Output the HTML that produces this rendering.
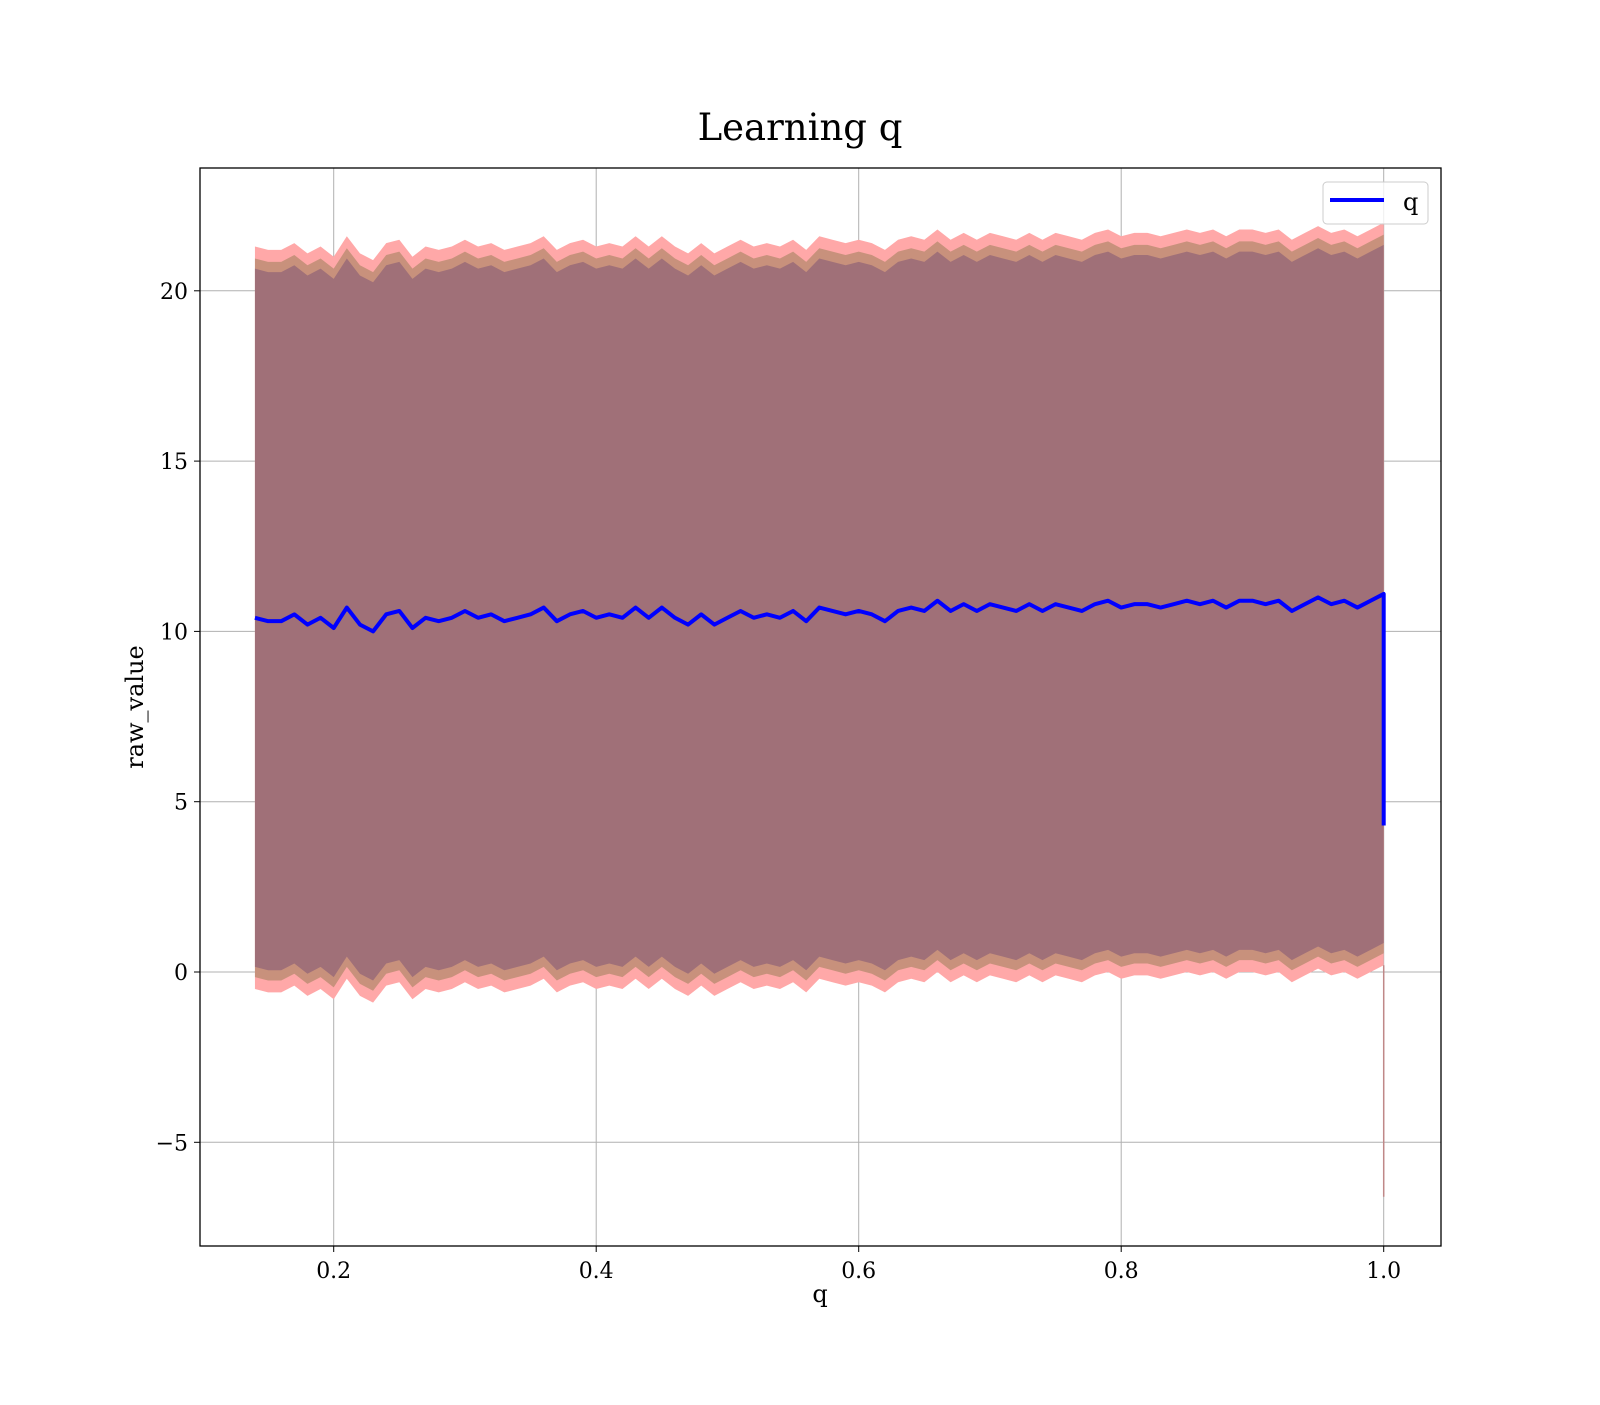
<!DOCTYPE html>
<html><head><meta charset="utf-8"><style>
body{margin:0;background:#fff;}
svg text{font-family:"DejaVu Serif","Liberation Serif",serif;fill:#000;}
</style></head><body>
<svg id="chart" width="1600" height="1400" xmlns="http://www.w3.org/2000/svg">
<rect width="1600" height="1400" fill="#fff"/>
<text x="800" y="140" font-size="37" text-anchor="middle">Learning q</text>
<g id="grid"></g>
<g id="bands"></g>
<g id="series"></g>
<rect x="200" y="168" width="1241" height="1078" fill="none" stroke="#000" stroke-width="1.3"/>
<g id="ticks"></g>
<text x="820" y="1302" font-size="24" text-anchor="middle">q</text>
<text x="0" y="0" font-size="24" text-anchor="middle" transform="translate(143,707) rotate(-90)">raw_value</text>
<g>
<rect x="1323" y="182" width="105" height="42" rx="4" fill="#fff" fill-opacity="0.8" stroke="#ccc"/>
<line x1="1330" y1="200" x2="1384" y2="200" stroke="#0000ff" stroke-width="4"/>
<text x="1403" y="210" font-size="24">q</text>
</g>
</svg>
<script>
const xs = [0.14,0.15,0.16,0.17,0.18,0.19,0.20,0.21,0.22,0.23,0.24,0.25,0.26,0.27,0.28,0.29,0.30,0.31,0.32,0.33,0.34,0.35,0.36,0.37,0.38,0.39,0.40,0.41,0.42,0.43,0.44,0.45,0.46,0.47,0.48,0.49,0.50,0.51,0.52,0.53,0.54,0.55,0.56,0.57,0.58,0.59,0.60,0.61,0.62,0.63,0.64,0.65,0.66,0.67,0.68,0.69,0.70,0.71,0.72,0.73,0.74,0.75,0.76,0.77,0.78,0.79,0.80,0.81,0.82,0.83,0.84,0.85,0.86,0.87,0.88,0.89,0.90,0.91,0.92,0.93,0.94,0.95,0.96,0.97,0.98,0.99,1.00];
const meanVals = [10.4,10.3,10.3,10.5,10.2,10.4,10.1,10.7,10.2,10.0,10.5,10.6,10.1,10.4,10.3,10.4,10.6,10.4,10.5,10.3,10.4,10.5,10.7,10.3,10.5,10.6,10.4,10.5,10.4,10.7,10.4,10.7,10.4,10.2,10.5,10.2,10.4,10.6,10.4,10.5,10.4,10.6,10.3,10.7,10.6,10.5,10.6,10.5,10.3,10.6,10.7,10.6,10.9,10.6,10.8,10.6,10.8,10.7,10.6,10.8,10.6,10.8,10.7,10.6,10.8,10.9,10.7,10.8,10.8,10.7,10.8,10.9,10.8,10.9,10.7,10.9,10.9,10.8,10.9,10.6,10.8,11.0,10.8,10.9,10.7,10.9,11.1];
const finalValue = 4.3;
const finalLowerBand = -6.6;
const bandWidths = [10.9,10.55,10.25];
const bandColors = ["#ffa8a8","#c8917c","#a07078"];
const bandNames = ["band-outer","band-middle","band-inner"];
const xTicks = [0.2,0.4,0.6,0.8,1.0];
const xTickLabels = ["0.2","0.4","0.6","0.8","1.0"];
const yTicks = [-5,0,5,10,15,20];
const yTickLabels = ["\u22125","0","5","10","15","20"];

const NS="http://www.w3.org/2000/svg";
const X0=200,X1=1441,Y0=168,Y1=1246;
const sx=v=>333.7+(v-0.2)*1312.5;
const sy=v=>972-v*34.06;
function mk(tag,attrs,parent){const e=document.createElementNS(NS,tag);for(const k in attrs)e.setAttribute(k,attrs[k]);parent.appendChild(e);return e;}
const grid=document.getElementById('grid'),ticks=document.getElementById('ticks'),bands=document.getElementById('bands'),series=document.getElementById('series');
xTicks.forEach((t,i)=>{
  const g=mk('line',{x1:sx(t),x2:sx(t),y1:Y0,y2:Y1,stroke:'#b0b0b0','stroke-width':1},grid);
  
  
  const tk=mk('line',{x1:sx(t),x2:sx(t),y1:Y1,y2:Y1+6,stroke:'#000','stroke-width':1},ticks);
  
  
  const tx=mk('text',{x:sx(t),y:Y1+32,'font-size':22,'text-anchor':'middle'},ticks);
  tx.textContent=xTickLabels[i];
  
  
});
yTicks.forEach((t,i)=>{
  const g=mk('line',{x1:X0,x2:X1,y1:sy(t),y2:sy(t),stroke:'#b0b0b0','stroke-width':1},grid);
  
  
  const tk=mk('line',{x1:X0-6,x2:X0,y1:sy(t),y2:sy(t),stroke:'#000','stroke-width':1},ticks);
  
  
  const tx=mk('text',{x:X0-12,y:sy(t)+8,'font-size':22,'text-anchor':'end'},ticks);
  tx.textContent=yTickLabels[i];
  
  
});
bandWidths.forEach((w,bi)=>{
  let up=xs.map((x,i)=>sx(x)+','+sy(meanVals[i]+w));
  let lo=xs.map((x,i)=>sx(x)+','+sy(meanVals[i]-w)).reverse();
  const p=mk('polygon',{points:up.concat(lo).join(' '),fill:bandColors[bi]},bands);
  
  
});
const last=xs.length-1;
const spike=mk('line',{x1:sx(xs[last]),x2:sx(xs[last]),y1:sy(meanVals[last]-bandWidths[0]),y2:sy(finalLowerBand),stroke:'#c08888','stroke-width':1.5},bands);


const pts=xs.map((x,i)=>sx(x)+','+sy(meanVals[i]));
pts.push(sx(xs[last])+','+sy(finalValue));
const line=mk('polyline',{points:pts.join(' '),fill:'none',stroke:'#0000ff','stroke-width':4,'stroke-linejoin':'round'},series);


</script>
</body></html>
